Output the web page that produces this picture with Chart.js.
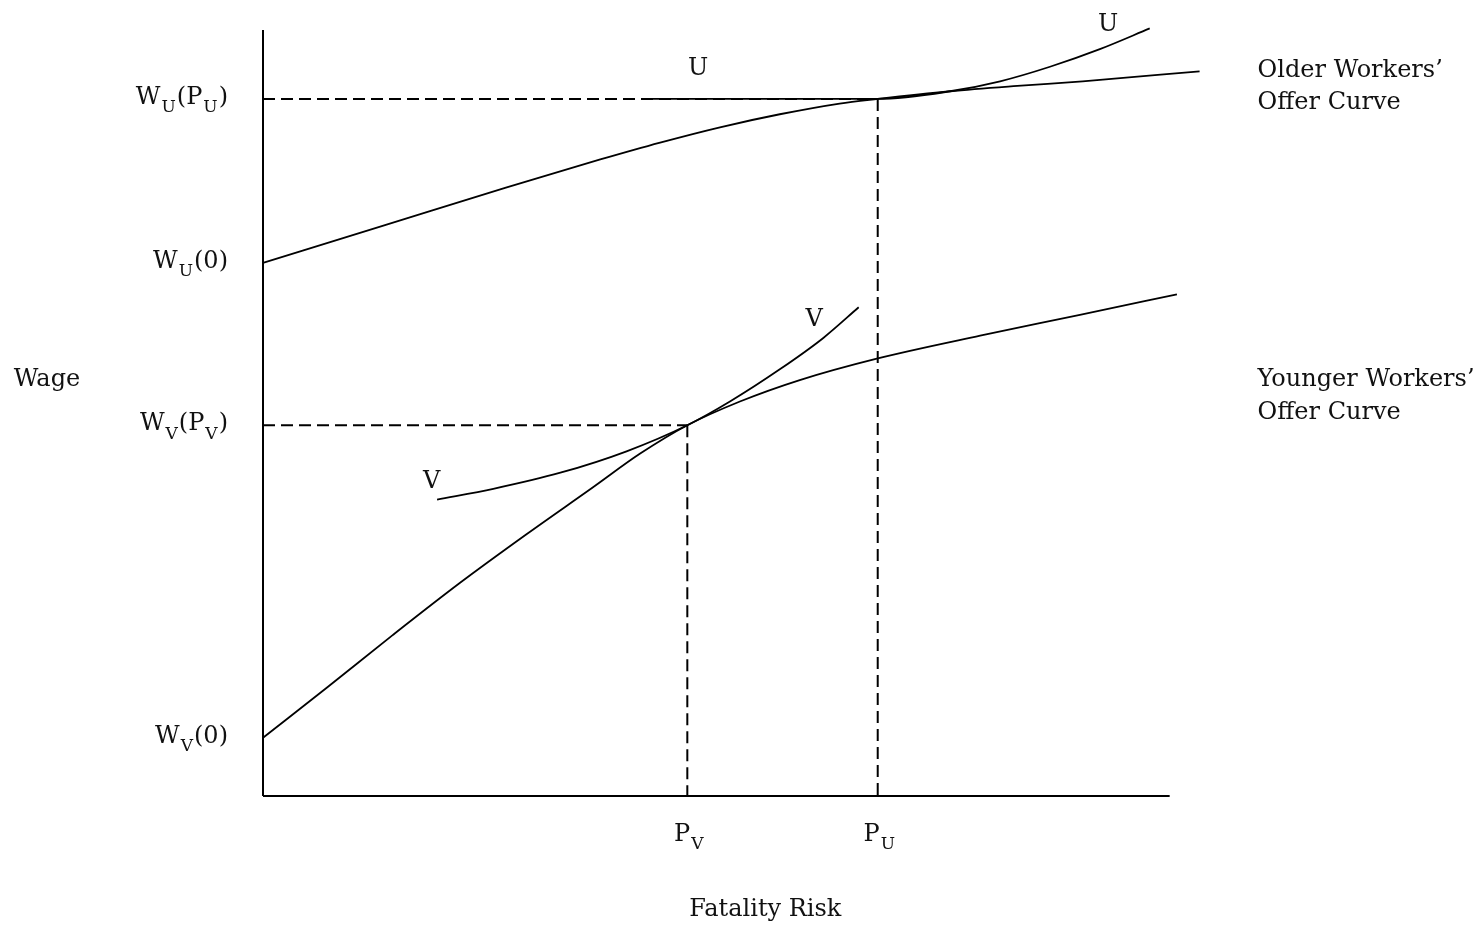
<!DOCTYPE html>
<html>
<head>
<meta charset="utf-8">
<script src="https://cdn.jsdelivr.net/npm/chart.js@4.4.1/dist/chart.umd.min.js"></script>
<style>
  html, body { margin: 0; padding: 0; background: #fff; }
  #wrap { width: 1483px; height: 929px; position: relative; }
</style>
</head>
<body>
<div id="wrap"><canvas id="myChart"></canvas></div>
<script>
// key levels (risk on x, wage on y)
const pV = 4.68, pU = 6.78;
const wV = 4.84, wU = 9.10;
const wV0 = 0.76, wU0 = 6.96;
const axisMaxX = 10.0, axisMaxY = 10.0;

// older workers' offer curve
const olderX = [0, 1.31, 2.67, 3.72, 4.38, 5.04, 5.70, 6.36, 6.78, 7.58, 8.32, 9.04, 10.33];
const olderY = [6.96, 7.44, 7.94, 8.31, 8.53, 8.73, 8.90, 9.04, 9.10, 9.20, 9.27, 9.33, 9.46];

// younger workers' offer curve
const youngerX = [0, 0.71, 1.43, 2.17, 2.91, 3.64, 4.16, 4.68, 5.26, 5.92, 6.77, 7.91, 9.01, 10.08];
const youngerY = [0.76, 1.42, 2.10, 2.78, 3.42, 4.03, 4.47, 4.84, 5.15, 5.43, 5.71, 6.01, 6.28, 6.55];

// indifference curve U (older)
const uX = [4.21, 4.82, 5.70, 6.36, 6.78, 7.58, 8.13, 8.68, 9.23, 9.78];
const uY = [9.10, 9.10, 9.10, 9.10, 9.10, 9.20, 9.33, 9.52, 9.75, 10.02];

// indifference curve V (younger)
const vX = [1.92, 2.54, 3.28, 4.01, 4.68, 5.15, 5.70, 6.18, 6.57];
const vY = [3.87, 4.01, 4.22, 4.50, 4.84, 5.15, 5.57, 5.98, 6.38];

// axis labels, subscripts marked with "_"
const yTickValues = [wU, wU0, wV, wV0];
const yTickLabels = ["W_U(P_U)", "W_U(0)", "W_V(P_V)", "W_V(0)"];
const xTickValues = [pV, pU];
const xTickLabels = ["P_V", "P_U"];

function pts(xs, ys) {
  return xs.map((x, i) => ({x: x, y: ys[i]}));
}

const curve = {borderColor: "#000", borderWidth: 1.8, pointRadius: 0, showLine: true, cubicInterpolationMode: "monotone", fill: false, clip: false};
const dash = {borderColor: "#000", borderWidth: 2, pointRadius: 0, showLine: true, borderDash: [12, 6], tension: 0, fill: false, clip: false};
const axis = {borderColor: "#000", borderWidth: 2, pointRadius: 0, showLine: true, tension: 0, fill: false, clip: false};

const FONT = '"DejaVu Serif", serif';

// text with subscripts: "W_U(P_U)" -> W, sub U, (P, sub U, )
function drawSub(ctx, text, x, y, align, size) {
  const parts = [];
  let i = 0, buf = "";
  while (i < text.length) {
    if (text[i] === "_") {
      if (buf) parts.push([buf, false]);
      buf = "";
      parts.push([text[i + 1], true]);
      i += 2;
    } else {
      buf += text[i];
      i++;
    }
  }
  if (buf) parts.push([buf, false]);
  const subSize = Math.round(size * 0.7);
  let total = 0;
  parts.forEach(p => {
    ctx.font = (p[1] ? subSize : size) + "px " + FONT;
    total += ctx.measureText(p[0]).width + (p[1] ? 2 : 0);
  });
  let cx = align === "right" ? x - total : align === "center" ? x - total / 2 : x;
  ctx.textAlign = "left";
  ctx.textBaseline = "middle";
  parts.forEach(p => {
    ctx.font = (p[1] ? subSize : size) + "px " + FONT;
    ctx.fillText(p[0], cx + (p[1] ? 1 : 0), p[1] ? y + 10 : y);
    cx += ctx.measureText(p[0]).width + (p[1] ? 2 : 0);
  });
}

const labelPlugin = {
  id: "labels",
  afterDatasetsDraw(chart) {
    const ctx = chart.ctx, xs = chart.scales.x, ys = chart.scales.y;
    const x0 = xs.getPixelForValue(0), y0 = ys.getPixelForValue(0);
    ctx.save();
    ctx.fillStyle = "#111";
    yTickValues.forEach((v, i) => {
      drawSub(ctx, yTickLabels[i], x0 - 35, ys.getPixelForValue(v) - 1, "right", 24);
    });
    xTickValues.forEach((v, i) => {
      drawSub(ctx, xTickLabels[i], xs.getPixelForValue(v) + 2, y0 + 39, "center", 24);
    });
    ctx.font = "24px " + FONT;
    ctx.textBaseline = "middle";
    ctx.textAlign = "center";
    ctx.fillText("Wage", 47, ys.getPixelForValue(5.46) + 2);
    ctx.fillText("Fatality Risk", xs.getPixelForValue(5.54), y0 + 114);
    // curve names
    ctx.fillText("U", xs.getPixelForValue(4.80), ys.getPixelForValue(9.52) + 2);
    ctx.fillText("U", xs.getPixelForValue(9.32), ys.getPixelForValue(10.10) + 2);
    ctx.fillText("V", xs.getPixelForValue(6.08), ys.getPixelForValue(6.24) + 2);
    ctx.fillText("V", xs.getPixelForValue(1.86), ys.getPixelForValue(4.13) + 2);
    // offer curve names
    ctx.textAlign = "left";
    const lx = xs.getPixelForValue(10.97);
    ctx.fillText("Older Workers\u2019", lx, ys.getPixelForValue(9.50) + 2);
    ctx.fillText("Offer Curve", lx, ys.getPixelForValue(9.07) + 2);
    ctx.fillText("Younger Workers\u2019", lx, ys.getPixelForValue(5.46) + 2);
    ctx.fillText("Offer Curve", lx, ys.getPixelForValue(5.03) + 2);
    ctx.restore();
  }
};

new Chart("myChart", {
  type: "scatter",
  data: {
    datasets: [
      Object.assign({data: pts([0, axisMaxX], [0, 0])}, axis),
      Object.assign({data: pts([0, 0], [0, axisMaxY])}, axis),
      Object.assign({data: pts([0, pU], [wU, wU])}, dash),
      Object.assign({data: pts([pU, pU], [wU, 0])}, dash),
      Object.assign({data: pts([0, pV], [wV, wV])}, dash),
      Object.assign({data: pts([pV, pV], [wV, 0])}, dash),
      Object.assign({data: pts(olderX, olderY)}, curve),
      Object.assign({data: pts(youngerX, youngerY)}, curve),
      Object.assign({data: pts(uX, uY)}, curve),
      Object.assign({data: pts(vX, vY)}, curve)
    ]
  },
  options: {
    responsive: true,
    maintainAspectRatio: false,
    animation: false,
    layout: {padding: {left: 263, right: 268, top: 7, bottom: 133}},
    plugins: {legend: {display: false}, tooltip: {enabled: false}},
    scales: {
      x: {type: "linear", min: 0, max: 10.5, display: false},
      y: {type: "linear", min: 0, max: 10.3, display: false}
    }
  },
  plugins: [labelPlugin]
});
</script>
</body>
</html>
